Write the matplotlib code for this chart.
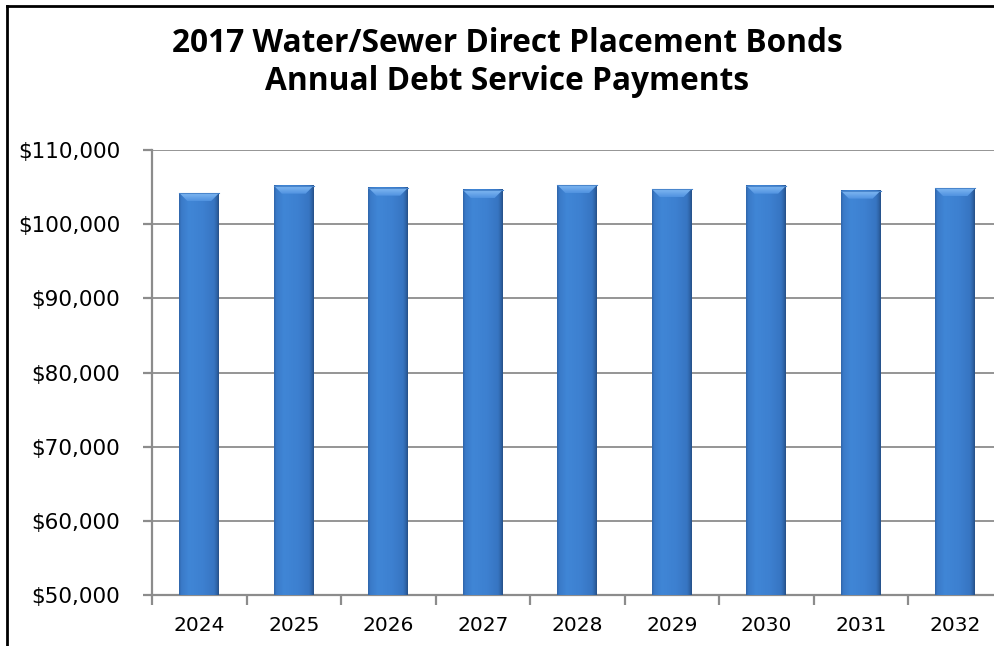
import numpy as np
import matplotlib
matplotlib.use("Agg")
import matplotlib.pyplot as plt
from matplotlib.lines import Line2D
from matplotlib.patches import Polygon
from matplotlib.colors import LinearSegmentedColormap
from matplotlib.ticker import FuncFormatter, FixedLocator

# Annual debt service by fiscal year
years = ["2024", "2025", "2026", "2027", "2028", "2029", "2030", "2031", "2032"]
payments = [104200, 105190, 104920, 104610, 105280, 104740, 105190, 104520, 104830]

title_line1 = "2017 Water/Sewer Direct Placement Bonds"
title_line2 = "Annual Debt Service Payments"

W, H = 995, 646
fig = plt.figure(figsize=(W / 100, H / 100), dpi=100)
fig.patch.set_facecolor("white")

ax = fig.add_axes([152 / W, 1 - 595 / H, (1002.5 - 152) / W, (595 - 150) / H])
ymin, ymax = 50000, 110000
ax.set_xlim(-0.5, len(years) - 0.5)
ax.set_ylim(ymin, ymax)

# Horizontal shading across each bar: thin dark edges around a flat blue body
body_cmap = LinearSegmentedColormap.from_list(
    "body",
    [(0.0, "#2f64a8"), (0.06, "#3a7ac8"), (0.25, "#4086d6"),
     (0.60, "#3d80d0"), (0.88, "#3775c2"), (0.95, "#2e63a6"), (1.0, "#264f86")])
grad = np.linspace(0, 1, 256).reshape(1, -1)
top_cmap = LinearSegmentedColormap.from_list("top", ["#5092e0", "#80b8f2"])

bar_w = 0.42
px_per_unit = (595 - 150) / (ymax - ymin)
bevel_h = 8 / px_per_unit
bevel_in = 0.2 * bar_w

for i, v in enumerate(payments):
    x0, x1 = i - bar_w / 2, i + bar_w / 2
    ax.imshow(grad, cmap=body_cmap, aspect="auto",
              extent=(x0, x1, ymin, v), zorder=3, interpolation="bilinear")
    # bevelled top face with a vertical sheen
    top = Polygon([(x0, v), (x1, v), (x1 - bevel_in, v - bevel_h), (x0 + bevel_in, v - bevel_h)],
                  closed=True, facecolor="none", edgecolor="none", zorder=4)
    ax.add_patch(top)
    sheen = ax.imshow(np.linspace(0, 1, 32).reshape(-1, 1), cmap=top_cmap, aspect="auto",
                      extent=(x0, x1, v - bevel_h, v), origin="lower", zorder=4,
                      interpolation="bilinear")
    sheen.set_clip_path(top)
    ax.plot([x0, x1], [v, v], color="#4a86cc", lw=0.8, zorder=4.5)

# Axes styling
grid_c = "#8c8c8c"
for s in ["top", "right"]:
    ax.spines[s].set_visible(False)
for s in ["left", "bottom"]:
    ax.spines[s].set_color(grid_c)
    ax.spines[s].set_linewidth(1.6)
ax.set_yticks(np.arange(ymin, ymax + 1, 10000))
ax.yaxis.set_major_formatter(FuncFormatter(lambda v, p: "${:,.0f}".format(v)))
ax.grid(axis="y", color=grid_c, linewidth=1.3, zorder=1)
ax.set_axisbelow(True)
ax.tick_params(axis="y", length=6.5, width=1.6, color=grid_c, pad=16.5,
               labelsize=15.5, labelcolor="black")

ax.set_xticks(range(len(years)))
ax.set_xticklabels(years)
ax.xaxis.set_minor_locator(FixedLocator(np.arange(-0.5, len(years) + 0.5, 1.0)))
ax.tick_params(axis="x", which="major", length=0, pad=15, labelsize=14.5, labelcolor="black")
ax.tick_params(axis="x", which="minor", length=7, width=1.6, color=grid_c)

for lbl in ax.get_xticklabels() + ax.get_yticklabels():
    lbl.set_family("DejaVu Sans")

# Title
fig.text(507 / W, 1 - 52 / H, title_line1, ha="center", va="baseline",
         fontsize=22.8, fontweight="bold", family="Open Sans")
fig.text(507 / W, 1 - 90 / H, title_line2, ha="center", va="baseline",
         fontsize=22.8, fontweight="bold", family="Open Sans")

# Outer chart border (top and left edges visible)
fig.add_artist(Line2D([7 / W, 1.01], [1 - 6 / H, 1 - 6 / H], transform=fig.transFigure,
                      color="black", lw=2))
fig.add_artist(Line2D([7 / W, 7 / W], [1 - 6 / H, -0.01], transform=fig.transFigure,
                      color="black", lw=2))

fig.savefig("out.png", dpi=100)
